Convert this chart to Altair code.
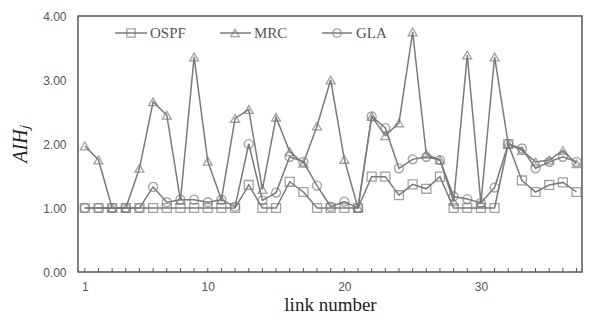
import altair as alt
import pandas as pd

links = list(range(1, 38))
ospf = [1, 1, 1, 1, 1, 1, 1, 1, 1, 1, 1, 1, 1.36, 1, 1, 1.41, 1.25, 1, 1, 1, 1,
        1.49, 1.49, 1.2, 1.37, 1.3, 1.49, 1, 1, 1, 1, 2.0, 1.43, 1.25, 1.36, 1.4, 1.25]
mrc = [1.97, 1.75, 1.0, 1.0, 1.62, 2.66, 2.45, 1.12, 3.36, 1.73, 1.13, 2.40, 2.54,
       1.29, 2.42, 1.88, 1.70, 2.28, 3.0, 1.76, 1.0, 2.43, 2.13, 2.33, 3.75, 1.84,
       1.75, 1.10, 3.39, 1.08, 3.36, 2.0, 1.90, 1.72, 1.75, 1.90, 1.69]
gla = [1.0, 1.0, 1.0, 1.0, 1.0, 1.33, 1.09, 1.13, 1.13, 1.09, 1.13, 1.02, 2.0,
       1.12, 1.24, 1.80, 1.72, 1.35, 1.02, 1.10, 1.0, 2.43, 2.25, 1.62, 1.76, 1.80,
       1.75, 1.18, 1.14, 1.08, 1.32, 2.0, 1.93, 1.62, 1.72, 1.80, 1.72]
series_names = ["OSPF", "MRC", "GLA"]
shapes = ["square", "triangle-up", "circle"]
x_labels = [1, 10, 20, 30]
y_ticks = [0, 1, 2, 3, 4]

W, H = 504, 256
GREY = "#7a7a7a"

rows = []
for name, vals in zip(series_names, [ospf, mrc, gla]):
    for l, v in zip(links, vals):
        rows.append({"link": l, "value": v, "series": name})
df = pd.DataFrame(rows)
ticks_df = pd.DataFrame({"link": links})

xscale = alt.Scale(domain=[0.5, 37.4], nice=False, zero=False)
yscale = alt.Scale(domain=[0, 4], nice=False)

x_enc = alt.X("link:Q", scale=xscale,
              axis=alt.Axis(values=x_labels, ticks=False, domain=False, grid=False,
                            labelFontSize=12, labelColor="#555", labelFont="Liberation Sans",
                            labelPadding=9, title="link number", titleFont="Liberation Serif",
                            titleFontSize=19, titleFontWeight="normal", titleColor="#222",
                            titlePadding=3))
y_enc = alt.Y("value:Q", scale=yscale,
              axis=alt.Axis(values=y_ticks, format=".2f", ticks=False, domain=False, grid=False,
                            labelFontSize=12, labelColor="#555", labelFont="Liberation Sans",
                            labelPadding=12, title="AIHⱼ", titleFont="Liberation Serif",
                            titleFontSize=20, titleFontStyle="italic", titleFontWeight="normal",
                            titleColor="#222", titlePadding=12))

shape_scale = alt.Scale(domain=series_names, range=shapes)

lines = alt.Chart(df).mark_line(color=GREY, strokeWidth=1.5).encode(
    x=x_enc, y=y_enc, detail="series:N")
points = alt.Chart(df).mark_point(size=80, filled=False, color=GREY, strokeWidth=1.3).encode(
    x="link:Q", y="value:Q",
    shape=alt.Shape("series:N", scale=shape_scale, legend=None))

xticks = alt.Chart(ticks_df).mark_rule(color="#555", strokeWidth=1).encode(
    x="link:Q", y=alt.value(H), y2=alt.value(H - 4))

layers = [lines, points, xticks]

legend_pos = [(37, 69, 53, 72), (142, 173, 157, 176), (244, 274, 259, 278)]
ly = 17
one = pd.DataFrame({"a": [0]})
for name, shp, (x0, x1, xm, xt) in zip(series_names, shapes, legend_pos):
    layers.append(alt.Chart(one).mark_rule(color=GREY, strokeWidth=1.5).encode(
        x=alt.value(x0), x2=alt.value(x1), y=alt.value(ly)))
    layers.append(alt.Chart(one).mark_point(size=70, filled=False, color=GREY, strokeWidth=1.3,
                                            shape=shp).encode(x=alt.value(xm), y=alt.value(ly)))
    layers.append(alt.Chart(one).mark_text(text=name, align="left", baseline="middle",
                                           font="Liberation Serif", fontSize=15,
                                           color="#555").encode(x=alt.value(xt), y=alt.value(ly)))

chart = alt.layer(*layers).properties(
    width=W, height=H,
    background="white",
    autosize=alt.AutoSizeParams(type="none"),
    padding={"left": 70, "top": 8, "right": 3, "bottom": 46},
).configure_view(stroke="#555", strokeWidth=1.5)

chart.save("out.html", embed_options={"renderer": "svg", "actions": False})
